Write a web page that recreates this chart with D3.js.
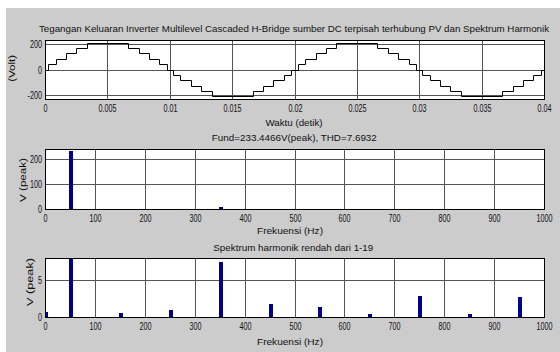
<!DOCTYPE html>
<html><head><meta charset="utf-8">
<script src="https://cdn.jsdelivr.net/npm/d3@7"></script>
<style>
body{margin:0;background:#fff}
svg{display:block}
text{font-family:"Liberation Sans",Arial,sans-serif;fill:#111}
</style></head>
<body><svg id="c" width="560" height="352"></svg>
<script>
// ---------------- data ----------------
const titleMain = "Tegangan Keluaran Inverter Multilevel Cascaded H-Bridge sumber DC terpisah terhubung PV dan Spektrum Harmonik";
const xLabelTime = "Waktu (detik)";
const yLabelTime = "(Volt)";
const titleFund = "Fund=233.4466V(peak), THD=7.6932";
const xLabelFreq = "Frekuensi (Hz)";
const yLabelFreq = "V (peak)";
const titleLow = "Spektrum harmonik rendah dari 1-19";

// staircase output voltage: switching instants (s) and level after each instant (V)
const waveTime = [0, 0.00025, 0.00085, 0.0017, 0.0025, 0.00335, 0.00665, 0.0075, 0.0083, 0.00915, 0.00975,
  0.01025, 0.01085, 0.0117, 0.0125, 0.01335, 0.01665, 0.0175, 0.0183, 0.01915, 0.01975,
  0.02025, 0.02085, 0.0217, 0.0225, 0.02335, 0.02665, 0.0275, 0.0283, 0.02915, 0.02975,
  0.03025, 0.03085, 0.0317, 0.0325, 0.03335, 0.03665, 0.0375, 0.0383, 0.03915, 0.03975, 0.04];
const waveVolt = [0, 43, 86, 129, 172, 215, 172, 129, 86, 43, 0,
  -43, -86, -129, -172, -215, -172, -129, -86, -43, 0,
  43, 86, 129, 172, 215, 172, 129, 86, 43, 0,
  -43, -86, -129, -172, -215, -172, -129, -86, -43, 0, 0];

// harmonic spectrum (Hz, V peak)
const harmFreq = [0, 50, 150, 250, 350, 450, 550, 650, 750, 850, 950];
const harmMag  = [0.70, 233.4466, 0.56, 1.01, 7.46, 1.81, 1.41, 0.47, 2.85, 0.47, 2.76];

// axes ticks
const timeTicks = [0, 0.005, 0.01, 0.015, 0.02, 0.025, 0.03, 0.035, 0.04];
const voltTicks = [-200, 0, 200];
const freqTicks = [0, 100, 200, 300, 400, 500, 600, 700, 800, 900, 1000];
const fullTicks = [0, 100, 200];
const lowTicks = [0, 5];
const voltDomain = [-235, 235];
const fullDomain = [0, 240];
const lowDomain = [0, 7.93];

// ---------------- drawing ----------------
const svg = d3.select("#c");
svg.append("rect").attr("x",0).attr("y",0).attr("width",560).attr("height",352).attr("fill","#fff");
svg.append("rect").attr("x",6).attr("y",8).attr("width",554).attr("height",344).attr("fill","#cccccc");

const L = 45, R = 544;
const gridColor = "#555";
const barColor = "#00008b";
let clipId = 0;

function squeeze(sel, f){
  sel.each(function(){
    const n = this.getComputedTextLength();
    d3.select(this).attr("textLength", n*f).attr("lengthAdjust","spacingAndGlyphs");
  });
}

function panel(top, bottom, x, y, xTicks, yTicks, xFmt, drawData){
  const g = svg.append("g");
  g.append("rect").attr("x",L).attr("y",top).attr("width",R-L).attr("height",bottom-top).attr("fill","#fff");
  const inner = xTicks.filter(d => d !== x.domain()[0] && d !== x.domain()[1]);
  const innerY = yTicks.filter(d => d !== y.domain()[0] && d !== y.domain()[1]);
  // grid
  g.append("g").attr("transform",`translate(0,${bottom})`)
    .call(d3.axisBottom(x).tickValues(inner).tickSize(-(bottom-top)).tickFormat(""))
    .call(s => { s.select(".domain").remove(); s.selectAll("line").attr("stroke",gridColor); });
  g.append("g").attr("transform",`translate(${L},0)`)
    .call(d3.axisLeft(y).tickValues(innerY).tickSize(-(R-L)).tickFormat(""))
    .call(s => { s.select(".domain").remove(); s.selectAll("line").attr("stroke",gridColor); });
  // data
  const id = "clip" + (clipId++);
  g.append("clipPath").attr("id", id).append("rect")
    .attr("x",L+1).attr("y",top+1).attr("width",R-L-1).attr("height",bottom-top-1);
  const dg = g.append("g").attr("clip-path",`url(#${id})`);
  drawData(dg);
  // box
  g.append("rect").attr("x",L+0.5).attr("y",top+0.5).attr("width",R-L).attr("height",bottom-top)
    .attr("fill","none").attr("stroke","#000").attr("stroke-width",1);
  // tick labels
  const ax = g.append("g").attr("transform",`translate(0,${bottom})`)
    .call(d3.axisBottom(x).tickValues(xTicks).tickSize(0).tickFormat(xFmt));
  ax.select(".domain").remove();
  ax.attr("font-family",null).attr("font-size",null);
  ax.selectAll("text").attr("y",12.5).attr("dy",null).attr("font-size",10).attr("fill","#111");
  squeeze(ax.selectAll("text"), 0.72);
  const ay = g.append("g").attr("transform",`translate(${L},0)`)
    .call(d3.axisLeft(y).tickValues(yTicks).tickSize(0).tickPadding(3).tickFormat(d => String(d)));
  ay.select(".domain").remove();
  ay.attr("font-family",null).attr("font-size",null);
  ay.selectAll("text").attr("dy","0.36em").attr("font-size",10).attr("fill","#111");
  squeeze(ay.selectAll("text"), 0.72);
}

// bar geometry helper: bars start at the axis, heights in whole pixels
function bars(g, x, y){
  const yu = y.copy().interpolate(d3.interpolateNumber);
  const base = yu(y.domain()[0]);
  const top = yu(y.domain()[1]);
  g.selectAll("rect.b").data(harmFreq).join("rect").attr("class","b")
    .attr("x", d => x(d)-1).attr("width",4)
    .attr("y", (d,i) => base - Math.floor(Math.min(base-top+2, base - yu(harmMag[i])) + 0.2))
    .attr("height", (d,i) => Math.floor(Math.min(base-top+2, base - yu(harmMag[i])) + 0.2))
    .attr("fill", barColor);
}

// top: time-domain waveform
const xt = d3.scaleLinear().domain([0,0.04]).rangeRound([L,R]);
const yt = d3.scaleLinear().domain(voltDomain).rangeRound([99,40]);
panel(40, 99, xt, yt, timeTicks, voltTicks, d => d3.format("~g")(d), g => {
  const pts = waveTime.map((t,i) => [t, waveVolt[i]]);
  const line = d3.line().x(d => xt(d[0])).y(d => yt(d[1])).curve(d3.curveStepAfter);
  g.append("path").attr("d", line(pts)).attr("transform","translate(0.5,0.5)")
    .attr("fill","none").attr("stroke","#000").attr("stroke-width",1);
});

// middle: full spectrum
const xf = d3.scaleLinear().domain([0,1000]).rangeRound([L,R]);
const ym = d3.scaleLinear().domain(fullDomain).rangeRound([209,149]);
panel(149, 209, xf, ym, freqTicks, fullTicks, d => String(d), g => bars(g, xf, ym));

// bottom: low-order harmonics zoom
const yb = d3.scaleLinear().domain(lowDomain).rangeRound([317,258]);
panel(258, 317, xf, yb, freqTicks, lowTicks, d => String(d), g => bars(g, xf, yb));

// titles and labels
function txt(s, x, y, w, size, rot){
  const t = svg.append("text").attr("text-anchor","middle").attr("font-size",size).text(s);
  if (rot) t.attr("transform",`translate(${x},${y}) rotate(-90)`);
  else t.attr("x",x).attr("y",y);
  if (w) t.attr("textLength",w).attr("lengthAdjust","spacingAndGlyphs");
  return t;
}
txt(titleMain, 294, 31.5, 510, 9.5);
txt(xLabelTime, 294, 125.5, 57, 9.5);
txt(titleFund, 294.3, 140.5, 165, 9.5);
txt(xLabelFreq, 290, 234, 66, 9.5);
txt(titleLow, 293.3, 250.5, 160, 9.5);
txt(xLabelFreq, 290, 344.5, 66, 9.5);
txt(yLabelTime, 14.5, 68.3, 27, 9.5, true);
txt(yLabelFreq, 25.5, 180, 44, 9.5, true);
txt(yLabelFreq, 33, 282, 48, 9.5, true);
</script></body></html>
